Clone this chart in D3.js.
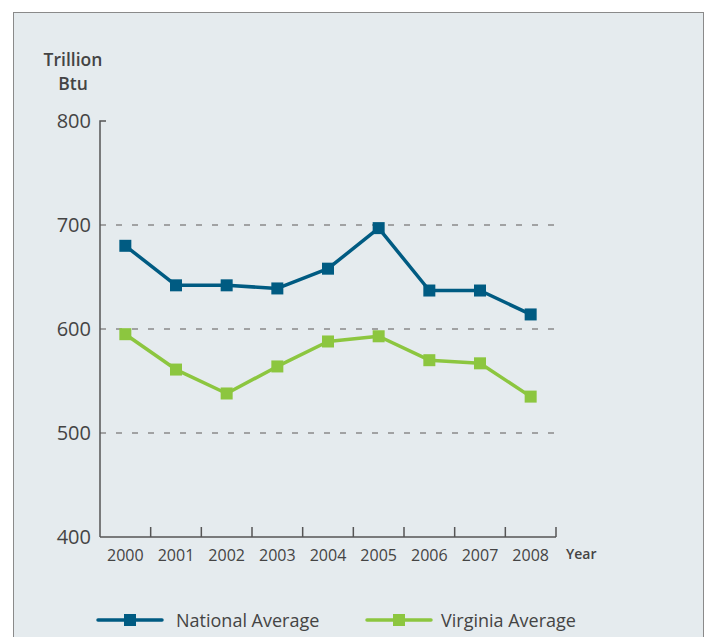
<!DOCTYPE html>
<html>
<head>
<meta charset="utf-8">
<script src="https://d3js.org/d3.v7.min.js"></script>
<style>
  body { margin: 0; background: #fff; }
  svg { display: block; }
  text { font-family: "Open Sans", Lato, sans-serif; fill: #444; }
</style>
</head>
<body>
<div id="wrapper"></div>
<script>
const years = ["2000", "2001", "2002", "2003", "2004", "2005", "2006", "2007", "2008"];
const nationalAvg = [680, 642, 642, 639, 658, 697, 637, 637, 614];
const virginiaAvg = [595, 561, 538, 564, 588, 593, 570, 567, 535];
const yTicks = [400, 500, 600, 700, 800];
const gridValues = [500, 600, 700];

const dimension = {
    width: 706,
    height: 637,
    margin: { left: 100, right: 150, top: 121, bottom: 100 }
};

const svg = d3.select("#wrapper").append("svg")
    .attr("width", dimension.width)
    .attr("height", dimension.height);

// panel background
svg.append("rect")
    .attr("x", 13.5).attr("y", 12.5)
    .attr("width", 690).attr("height", 640)
    .attr("fill", "#e5ebee")
    .attr("stroke", "#8a8a8a")
    .attr("stroke-width", 1);

const x_scale = d3.scaleBand()
    .domain(years)
    .range([dimension.margin.left, 556]);

const y_scale = d3.scaleLinear()
    .domain([400, 800])
    .range([537, dimension.margin.top]);

// dashed grid lines
svg.append("g").selectAll("line")
    .data(gridValues)
    .join("line")
    .attr("x1", dimension.margin.left)
    .attr("x2", 556)
    .attr("y1", d => y_scale(d))
    .attr("y2", d => y_scale(d))
    .attr("stroke", "#8a8a8a")
    .attr("stroke-width", 1.5)
    .attr("stroke-dasharray", "6,10");

// y axis
const y_axis = d3.axisLeft(y_scale).tickValues(yTicks).tickSize(0).tickPadding(9);
const gy = svg.append("g")
    .attr("transform", `translate(${dimension.margin.left},0)`)
    .call(y_axis);
gy.select(".domain").remove();
gy.selectAll("text").style("font-size", "20px").attr("fill", "#444");
svg.append("path")
    .attr("d", `M${dimension.margin.left + 6},${y_scale(800)}H${dimension.margin.left}V${y_scale(400)}`)
    .attr("fill", "none")
    .attr("stroke", "#555")
    .attr("stroke-width", 1.5);

// x axis
const x_axis = d3.axisBottom(x_scale).tickSize(0).tickPadding(13);
const gx = svg.append("g")
    .attr("transform", `translate(0,${y_scale(400)})`)
    .call(x_axis);
gx.select(".domain").remove();
gx.selectAll("text").style("font-size", "16px").attr("fill", "#444");
svg.append("line")
    .attr("x1", dimension.margin.left).attr("x2", 556)
    .attr("y1", y_scale(400)).attr("y2", y_scale(400))
    .attr("stroke", "#555").attr("stroke-width", 1.5);
svg.append("g").selectAll("line")
    .data(years)
    .join("line")
    .attr("x1", d => x_scale(d) + x_scale.bandwidth())
    .attr("x2", d => x_scale(d) + x_scale.bandwidth())
    .attr("y1", y_scale(400))
    .attr("y2", y_scale(400) - 10)
    .attr("stroke", "#555").attr("stroke-width", 1.5);

// axis labels
svg.append("text")
    .attr("x", 73).attr("y", 66)
    .attr("text-anchor", "middle")
    .style("font-size", "17.5px").style("font-weight", "600")
    .text("Trillion");
svg.append("text")
    .attr("x", 73).attr("y", 90)
    .attr("text-anchor", "middle")
    .style("font-size", "17.5px").style("font-weight", "600")
    .text("Btu");
svg.append("text")
    .attr("x", 566).attr("y", 559)
    .style("font-size", "14px").style("font-weight", "600")
    .text("Year");

// series
const series = [
    { name: "National Average", values: nationalAvg, color: "#005b82" },
    { name: "Virginia Average", values: virginiaAvg, color: "#8cc63f" }
];

const cx = (d, i) => x_scale(years[i]) + x_scale.bandwidth() / 2;
const line = d3.line().x(cx).y(d => y_scale(d));

series.forEach(s => {
    svg.append("path")
        .attr("fill", "none")
        .attr("stroke", s.color)
        .attr("stroke-width", 3.5)
        .attr("stroke-linejoin", "round")
        .attr("d", line(s.values));
    svg.append("g").selectAll("rect")
        .data(s.values)
        .join("rect")
        .attr("x", (d, i) => cx(d, i) - 6)
        .attr("y", d => y_scale(d) - 6)
        .attr("width", 12).attr("height", 12)
        .attr("fill", s.color);
});

// legend
const legendX = [98, 367];
const legendTextX = [78, 74];
const legend = svg.append("g").selectAll("g")
    .data(series)
    .join("g")
    .attr("transform", (d, i) => `translate(${legendX[i]},620)`);
legend.append("line")
    .attr("x1", 0).attr("x2", 64)
    .attr("stroke", d => d.color)
    .attr("stroke-width", 3.5)
    .attr("stroke-linecap", "round");
legend.append("rect")
    .attr("x", 26).attr("y", -6)
    .attr("width", 12).attr("height", 12)
    .attr("fill", d => d.color);
legend.append("text")
    .attr("x", (d, i) => legendTextX[i]).attr("y", 7)
    .style("font-size", "18px")
    .text(d => d.name);
</script>
</body>
</html>
